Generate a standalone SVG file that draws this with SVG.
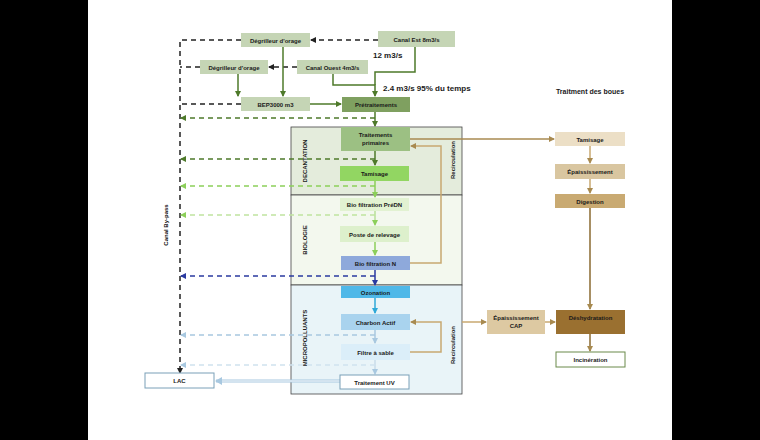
<svg xmlns="http://www.w3.org/2000/svg" width="760" height="440" viewBox="0 0 760 440">
<style>
text{font-family:"Liberation Sans",Arial,sans-serif;font-weight:bold;font-size:6px;fill:#1a1a1a;text-anchor:middle}
.s{fill:none;stroke-width:1.5}
.d{fill:none;stroke-width:1.5;stroke-dasharray:5 4}
</style>
<defs>
<marker id="ak" markerWidth="6" markerHeight="6" refX="5" refY="3" orient="auto" markerUnits="userSpaceOnUse"><path d="M0,0L6,3L0,6z" fill="#222"/></marker>
<marker id="ag" markerWidth="6" markerHeight="6" refX="5" refY="3" orient="auto" markerUnits="userSpaceOnUse"><path d="M0,0L6,3L0,6z" fill="#4e7a2a"/></marker>
<marker id="al" markerWidth="6" markerHeight="6" refX="5" refY="3" orient="auto" markerUnits="userSpaceOnUse"><path d="M0,0L6,3L0,6z" fill="#8ccf5a"/></marker>
<marker id="ab" markerWidth="6" markerHeight="6" refX="5" refY="3" orient="auto" markerUnits="userSpaceOnUse"><path d="M0,0L6,3L0,6z" fill="#2a3aa0"/></marker>
<marker id="ac" markerWidth="6" markerHeight="6" refX="5" refY="3" orient="auto" markerUnits="userSpaceOnUse"><path d="M0,0L6,3L0,6z" fill="#2ea8d8"/></marker>
<marker id="ap" markerWidth="6" markerHeight="6" refX="5" refY="3" orient="auto" markerUnits="userSpaceOnUse"><path d="M0,0L6,3L0,6z" fill="#a8c8e0"/></marker>
<marker id="at" markerWidth="6" markerHeight="6" refX="5" refY="3" orient="auto" markerUnits="userSpaceOnUse"><path d="M0,0L6,3L0,6z" fill="#a88a50"/></marker>
</defs>
<rect width="760" height="440" fill="#000"/>
<rect x="88" width="584" height="440" fill="#fff"/>
<g id="zones">
<rect x="291" y="127" width="171" height="68" fill="#e4ecdc" stroke="#444" stroke-width="0.8"/>
<rect x="291" y="195" width="171" height="90" fill="#f3f8ee" stroke="#444" stroke-width="0.8"/>
<rect x="291" y="285" width="171" height="109" fill="#e9f4f8" stroke="#444" stroke-width="0.8"/>
<text transform="translate(307,161) rotate(-90)">DECANTATION</text>
<text transform="translate(307,240) rotate(-90)">BIOLOGIE</text>
<text transform="translate(307,338) rotate(-90)">MICROPOLLUANTS</text>
<text transform="translate(455,160) rotate(-90)">Recirculation</text>
<text transform="translate(455,345) rotate(-90)">Recirculation</text>
<text transform="translate(168,225) rotate(-90)" style="fill:#111">Canal By-pass</text>
<text x="383" y="91" style="text-anchor:start;font-size:8px">2.4 m3/s 95% du temps</text>
<text x="373" y="58" style="text-anchor:start;font-size:8px">12 m3/s</text>
<text x="590" y="94" style="font-size:7px">Traitment des boues</text>
</g>
<g id="connectors">
<path class="d" stroke="#222" d="M241,40H180V373" marker-end="url(#ak)"/>
<path class="d" stroke="#222" d="M378,40H311" marker-end="url(#ak)"/>
<path class="d" stroke="#222" d="M200,67H180"/>
<path class="d" stroke="#222" d="M297,67H269" marker-end="url(#ak)"/>
<path class="d" stroke="#222" d="M241,104H180"/>
<path class="s" stroke="#4e7a2a" d="M283,47V96" marker-end="url(#ag)"/>
<path class="s" stroke="#4e7a2a" d="M238,74V96" marker-end="url(#ag)"/>
<path class="s" stroke="#4e7a2a" d="M333,74V85H375V96" marker-end="url(#ag)"/>
<path class="s" stroke="#4e7a2a" d="M415,47V72H375V85"/>
<path class="s" stroke="#4e7a2a" d="M310,104H341" marker-end="url(#ag)"/>
<path class="s" stroke="#4e7a2a" d="M375,112V126" marker-end="url(#ag)"/>
<path class="d" stroke="#4e7a2a" d="M375,118H181" marker-end="url(#ag)"/>
<path class="s" stroke="#4e7a2a" d="M375,151V165" marker-end="url(#ag)"/>
<path class="d" stroke="#4e7a2a" d="M375,159H181" marker-end="url(#ag)"/>
<path class="s" stroke="#8ccf5a" d="M375,181V197" marker-end="url(#al)"/>
<path class="d" stroke="#8ccf5a" d="M375,186H181" marker-end="url(#al)"/>
<path class="s" stroke="#b8e098" d="M375,211V225" marker-end="url(#al)"/>
<path class="d" stroke="#c0e4a0" d="M375,215H181" marker-end="url(#al)"/>
<path class="s" stroke="#8ccf5a" d="M375,242V255" marker-end="url(#al)"/>
<path class="s" stroke="#2a3aa0" d="M375,270V285" marker-end="url(#ab)"/>
<path class="d" stroke="#2a3aa0" d="M375,276H181" marker-end="url(#ab)"/>
<path class="s" stroke="#2ea8d8" d="M375,298V313" marker-end="url(#ac)"/>
<path class="s" stroke="#a8c8e0" d="M375,330V343" marker-end="url(#ap)"/>
<path class="d" stroke="#a8c8e0" d="M375,335H181" marker-end="url(#ap)"/>
<path class="s" stroke="#c8dcea" d="M375,360V374" marker-end="url(#ap)"/>
<path class="d" stroke="#d0e2ee" d="M375,365H181" marker-end="url(#ap)"/>
<path fill="none" stroke="#a8c8e0" stroke-width="3" d="M340,381H216"/>
<path fill="none" stroke="#fff" stroke-width="1" d="M340,381H220"/>
<path d="M215,381l7,-4v8z" fill="#a8c8e0"/>
<path class="s" stroke="#c8a870" d="M410,263H441V146H411" marker-end="url(#at)"/>
<path class="s" stroke="#c8a870" d="M410,352H441V322H411" marker-end="url(#at)"/>
<path class="s" stroke="#a88a50" d="M410,139H554" marker-end="url(#at)"/>
<path class="s" stroke="#c8a870" d="M590,146V163" marker-end="url(#at)"/>
<path class="s" stroke="#c8a870" d="M590,179V193" marker-end="url(#at)"/>
<path class="s" stroke="#8a6a30" d="M590,208V309" marker-end="url(#at)"/>
<path class="s" stroke="#c8a870" d="M462,322H486" marker-end="url(#at)"/>
<path class="s" stroke="#c8a870" d="M545,322H555" marker-end="url(#at)"/>
<path class="s" stroke="#8a6a30" d="M590,334V351" marker-end="url(#at)"/>
</g>
<g id="n-deg1"><rect x="241" y="33" width="69" height="14" fill="#c5d5b5"/><text x="275.5" y="42.5">Dégrilleur d'orage</text></g>
<g id="n-est"><rect x="378" y="31" width="77" height="16" fill="#c5d5b5"/><text x="416.5" y="41.5">Canal Est 8m3/s</text></g>
<g id="n-deg2"><rect x="200" y="60" width="68" height="14" fill="#c5d5b5"/><text x="234" y="69.5">Dégrilleur d'orage</text></g>
<g id="n-ouest"><rect x="297" y="60" width="71" height="14" fill="#c5d5b5"/><text x="332.5" y="69.5">Canal Ouest 4m3/s</text></g>
<g id="n-bep"><rect x="241" y="97" width="69" height="14" fill="#c5d5b5"/><text x="275.5" y="106.5">BEP3000 m3</text></g>
<g id="n-pre"><rect x="342" y="97" width="68" height="15" fill="#7fa060"/><text x="376" y="107">Prétraitements</text></g>
<g id="n-tp"><rect x="341" y="127" width="69" height="24" fill="#9cc083"/><text x="375.5" y="137">Traitements</text><text x="375.5" y="145">primaires</text></g>
<g id="n-tam"><rect x="340" y="166" width="69" height="15" fill="#92d662"/><text x="374.5" y="176">Tamisage</text></g>
<g id="n-bfp"><rect x="340" y="198" width="69" height="13" fill="#e2f2d2"/><text x="374.5" y="207">Bio filtration PréDN</text></g>
<g id="n-pr"><rect x="340" y="226" width="69" height="16" fill="#ddf0cc"/><text x="374.5" y="236.5">Poste de relevage</text></g>
<g id="n-bfn"><rect x="341" y="256" width="69" height="14" fill="#8ea9db"/><text x="375.5" y="265.5">Bio filtration N</text></g>
<g id="n-oz"><rect x="341" y="286" width="69" height="12" fill="#4fb8e8"/><text x="375.5" y="294.5">Ozonation</text></g>
<g id="n-ca"><rect x="341" y="314" width="69" height="16" fill="#a9d3ee"/><text x="375.5" y="324.5">Charbon Actif</text></g>
<g id="n-fs"><rect x="341" y="344" width="69" height="16" fill="#dbeef9"/><text x="375.5" y="354.5">Filtre à sable</text></g>
<g id="n-uv"><rect x="340" y="375" width="69" height="14" fill="#fff" stroke="#7aa0b8"/><text x="374.5" y="384.5">Traitement UV</text></g>
<g id="n-lac"><rect x="145" y="373" width="69" height="15" fill="#fff" stroke="#7aa0b8"/><text x="179.5" y="383">LAC</text></g>
<g id="n-stam"><rect x="555" y="132" width="70" height="14" fill="#ecdfc6"/><text x="590" y="141.5">Tamisage</text></g>
<g id="n-sep"><rect x="555" y="164" width="70" height="15" fill="#d9c6a0"/><text x="590" y="174">Épaississement</text></g>
<g id="n-dig"><rect x="555" y="194" width="70" height="14" fill="#c9aa72"/><text x="590" y="203.5">Digestion</text></g>
<g id="n-cap"><rect x="487" y="310" width="58" height="24" fill="#ddc9a2"/><text x="516" y="320">Épaississement</text><text x="516" y="328">CAP</text></g>
<g id="n-des"><rect x="556" y="310" width="69" height="24" fill="#9a7030"/><text x="590.5" y="320">Déshydratation</text></g>
<g id="n-inc"><rect x="556" y="352" width="69" height="15" fill="#fff" stroke="#6a8a4a"/><text x="590.5" y="362">Incinération</text></g>
</svg>
